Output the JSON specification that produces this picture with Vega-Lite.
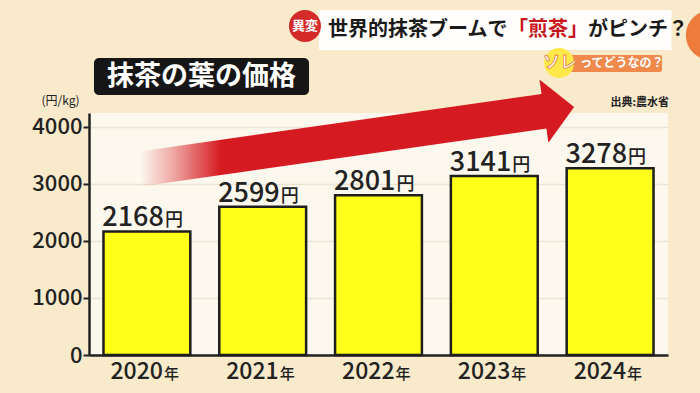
{
"$schema": "https://vega.github.io/schema/vega-lite/v6.json",
"width": 579,
"height": 242,
"autosize": {"type": "none"},
"padding": {"left": 89, "top": 113, "right": 32, "bottom": 38},
"background": "#f8eacb",
"config": {"view": {"fill": "#fcf8ee", "stroke": null}, "font": "Noto Sans CJK JP"},
"data": {"values": [
  {"year": "2020", "price": 2168},
  {"year": "2021", "price": 2599},
  {"year": "2022", "price": 2801},
  {"year": "2023", "price": 3141},
  {"year": "2024", "price": 3278}
]},
"resolve": {"scale": {"x": "independent"}},
"layer": [
  {
    "data": {"values": [{}]},
    "layer": [
      {
        "mark": {"type": "rule", "strokeWidth": 35, "strokeCap": "butt",
          "stroke": {"gradient": "linear", "x1": 0, "y1": 0, "x2": 1, "y2": 0,
            "stops": [
              {"offset": 0, "color": "rgba(214,26,33,0)"},
              {"offset": 0.08, "color": "rgba(214,26,33,0.35)"},
              {"offset": 0.2, "color": "#d61a21"},
              {"offset": 1, "color": "#d61a21"}]}},
        "encoding": {
          "x": {"datum": 2019.94, "type": "quantitative", "scale": {"domain": [2019.5, 2024.5], "nice": false, "zero": false}, "axis": null},
          "x2": {"datum": 2023.446},
          "y": {"datum": 3263, "type": "quantitative", "scale": {"domain": [0, 4245], "nice": false}},
          "y2": {"datum": 4280}
        }
      },
      {
        "mark": {"type": "point", "shape": "M-0.476,-1L0.476,0L-0.476,1Z", "size": 4100, "angle": -8, "filled": true, "color": "#d61a21", "opacity": 1},
        "encoding": {
          "x": {"datum": 2023.559, "type": "quantitative", "axis": null},
          "y": {"datum": 4315, "type": "quantitative"}
        }
      },
      {
        "mark": {"type": "rect", "fill": "#161616", "cornerRadius": 5},
        "encoding": {
          "x": {"datum": 2019.543, "type": "quantitative", "axis": null},
          "x2": {"datum": 2021.4},
          "y": {"datum": 5210, "type": "quantitative"},
          "y2": {"datum": 4561}
        }
      },
      {
        "mark": {"type": "text", "text": "抹茶の葉の価格", "fontSize": 27, "fontWeight": "bold", "fill": "#ffffff", "align": "center", "baseline": "middle"},
        "encoding": {
          "x": {"datum": 2020.472, "type": "quantitative", "axis": null},
          "y": {"datum": 4885, "type": "quantitative"}
        }
      },
      {
        "mark": {"type": "rect", "fill": "#ffffff", "opacity": 0.93},
        "encoding": {
          "x": {"datum": 2021.486, "type": "quantitative", "axis": null},
          "x2": {"datum": 2024.53},
          "y": {"datum": 6052, "type": "quantitative"},
          "y2": {"datum": 5350}
        }
      },
      {
        "mark": {"type": "point", "shape": "circle", "size": 2500, "filled": true, "color": "#ec6f2c", "opacity": 0.9},
        "encoding": {
          "x": {"datum": 2024.87, "type": "quantitative", "axis": null},
          "y": {"datum": 5610, "type": "quantitative"}
        }
      },
      {
        "mark": {"type": "point", "shape": "circle", "size": 1024, "filled": true, "color": "#d42a2a", "opacity": 1},
        "encoding": {
          "x": {"datum": 2021.365, "type": "quantitative", "axis": null},
          "y": {"datum": 5771, "type": "quantitative"}
        }
      },
      {
        "mark": {"type": "text", "text": "異変", "fontSize": 13, "fontWeight": "bold", "fill": "#ffffff", "align": "center", "baseline": "middle"},
        "encoding": {
          "x": {"datum": 2021.365, "type": "quantitative", "axis": null},
          "y": {"datum": 5771, "type": "quantitative"}
        }
      },
      {
        "mark": {"type": "text", "text": "世界的抹茶ブームで", "fontSize": 20, "fontWeight": "bold", "fill": "#1a1a1a", "align": "left", "baseline": "middle"},
        "encoding": {
          "x": {"datum": 2021.564, "type": "quantitative", "axis": null},
          "y": {"datum": 5701, "type": "quantitative"}
        }
      },
      {
        "mark": {"type": "text", "text": "「煎茶」", "fontSize": 20, "fontWeight": "bold", "fill": "#c8161d", "align": "left", "baseline": "middle", "dx": 180},
        "encoding": {
          "x": {"datum": 2021.564, "type": "quantitative", "axis": null},
          "y": {"datum": 5701, "type": "quantitative"}
        }
      },
      {
        "mark": {"type": "text", "text": "がピンチ？", "fontSize": 20, "fontWeight": "bold", "fill": "#1a1a1a", "align": "left", "baseline": "middle", "dx": 260},
        "encoding": {
          "x": {"datum": 2021.564, "type": "quantitative", "axis": null},
          "y": {"datum": 5701, "type": "quantitative"}
        }
      },
      {
        "mark": {"type": "rect", "fill": "#ef8a4c", "cornerRadius": 2},
        "encoding": {
          "x": {"datum": 2023.611, "type": "quantitative", "axis": null},
          "x2": {"datum": 2024.448},
          "y": {"datum": 5262, "type": "quantitative"},
          "y2": {"datum": 4964}
        }
      },
      {
        "mark": {"type": "point", "shape": "circle", "size": 900, "filled": true, "color": "#ffe94a", "opacity": 1},
        "encoding": {
          "x": {"datum": 2023.56, "type": "quantitative", "axis": null},
          "y": {"datum": 5122, "type": "quantitative"}
        }
      },
      {
        "mark": {"type": "text", "text": "ソレ", "fontSize": 17, "fontWeight": "bold", "fill": "#ffffff", "stroke": "#e8803c", "strokeWidth": 0.8, "align": "left", "baseline": "middle"},
        "encoding": {
          "x": {"datum": 2023.42, "type": "quantitative", "axis": null},
          "y": {"datum": 5122, "type": "quantitative"}
        }
      },
      {
        "mark": {"type": "text", "text": "ってどうなの？", "fontSize": 12, "fontWeight": "bold", "fill": "#ffffff", "align": "left", "baseline": "middle"},
        "encoding": {
          "x": {"datum": 2023.74, "type": "quantitative", "axis": null},
          "y": {"datum": 5122, "type": "quantitative"}
        }
      },
      {
        "mark": {"type": "text", "text": "出典:農水省", "fontSize": 11, "fontWeight": "bold", "fill": "#222222", "align": "right", "baseline": "middle"},
        "encoding": {
          "x": {"datum": 2024.509, "type": "quantitative", "axis": null},
          "y": {"datum": 4420, "type": "quantitative"}
        }
      }
    ]
  },
  {
    "encoding": {
      "x": {"field": "year", "type": "nominal", "sort": null,
        "scale": {"paddingInner": 0.25, "paddingOuter": 0.125},
        "axis": {"title": null, "labels": false, "ticks": false, "grid": false, "domainColor": "#222222", "domainWidth": 2.5}}
    },
    "layer": [
      {
        "mark": {"type": "bar", "fill": "#ffff1a", "stroke": "#1e1e1e", "strokeWidth": 2.5},
        "encoding": {
          "y": {"field": "price", "type": "quantitative",
            "scale": {"domain": [0, 4245], "nice": false},
            "axis": {"values": [0, 1000, 2000, 3000, 4000], "format": "d", "title": "(円/kg)", "titleAngle": 0, "titleX": -29, "titleY": -13,
              "titleAlign": "center", "titleBaseline": "middle", "titleFontSize": 12, "titleFontWeight": "normal", "titleColor": "#222222",
              "labelFontSize": 22, "labelFontWeight": 500, "labelColor": "#222222", "labelPadding": 1,
              "tickColor": "#222222", "tickWidth": 2, "tickSize": 6,
              "domainColor": "#222222", "domainWidth": 2.5,
              "grid": true, "gridColor": "#ece4d2", "gridWidth": 1.5}}
        }
      },
      {
        "mark": {"type": "text", "fontSize": 27, "fontWeight": 500, "fill": "#222222", "align": "right", "baseline": "alphabetic", "dx": 17, "dy": -5},
        "encoding": {
          "y": {"field": "price", "type": "quantitative"},
          "text": {"field": "price", "type": "quantitative", "format": "d"}
        }
      },
      {
        "mark": {"type": "text", "text": "円", "fontSize": 18, "fontWeight": 500, "fill": "#222222", "align": "left", "baseline": "alphabetic", "dx": 18, "dy": -5},
        "encoding": {
          "y": {"field": "price", "type": "quantitative"}
        }
      },
      {
        "mark": {"type": "text", "fontSize": 23, "fontWeight": 500, "fill": "#222222", "align": "right", "baseline": "alphabetic", "dx": 16, "dy": 24},
        "encoding": {
          "y": {"datum": 0, "type": "quantitative"},
          "text": {"field": "year", "type": "nominal"}
        }
      },
      {
        "mark": {"type": "text", "text": "年", "fontSize": 15, "fontWeight": 500, "fill": "#222222", "align": "left", "baseline": "alphabetic", "dx": 17, "dy": 24},
        "encoding": {
          "y": {"datum": 0, "type": "quantitative"}
        }
      }
    ]
  }
]
}
